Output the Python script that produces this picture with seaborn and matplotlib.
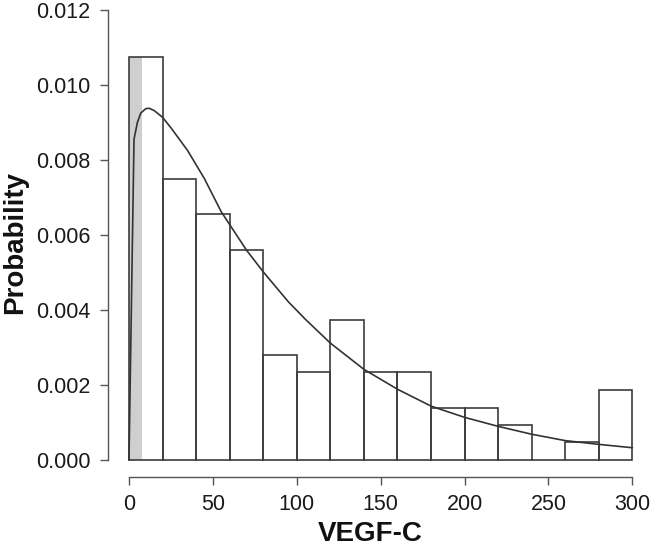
import numpy as np
import matplotlib
matplotlib.use('Agg')
import matplotlib.pyplot as plt
import seaborn as sns

# histogram: bin edges (width 20) and bar heights (density)
bin_edges = [0, 20, 40, 60, 80, 100, 120, 140, 160, 180, 200, 220, 240, 260, 280, 300]
bar_density = [0.01075, 0.00750, 0.00655, 0.00561, 0.00280, 0.00234, 0.00374,
               0.00234, 0.00234, 0.00140, 0.00140, 0.00093, 0.0, 0.00047, 0.00187]

# fitted density curve
curve_x = [0, 3, 5, 7, 10, 12, 15, 20, 25, 35, 45, 55, 70, 80, 95, 105,
           120, 140, 160, 180, 200, 220, 240, 260, 280, 300]
curve_y = [0.0, 0.00855, 0.00900, 0.00925, 0.00937, 0.00938, 0.00932, 0.00914,
           0.00886, 0.00825, 0.00750, 0.00662, 0.00560, 0.00502, 0.00422, 0.00376,
           0.00312, 0.00242, 0.00189, 0.00144, 0.00114, 0.00090, 0.00069,
           0.00052, 0.00042, 0.00033]

# shaded band at the low end of the first bin
shade_x = [0, 8]

x_ticks = [0, 50, 100, 150, 200, 250, 300]
y_ticks = [0.000, 0.002, 0.004, 0.006, 0.008, 0.010, 0.012]

sns.set_theme(style='ticks')
plt.rcParams['font.family'] = ['Liberation Sans', 'DejaVu Sans']

fig = plt.figure(figsize=(6.5, 5.49), dpi=100)
ax = fig.add_axes([108 / 650, 72 / 549, 542 / 650, 474.5 / 549])

# grey band first, so the bar outlines sit on top of it
ax.fill_between(shade_x, 0, bar_density[0], color='#cfcfcf', linewidth=0, zorder=1)

bin_mids = [(a + b) / 2 for a, b in zip(bin_edges[:-1], bin_edges[1:])]
sns.histplot(x=bin_mids, weights=bar_density, bins=bin_edges, stat='count',
             fill=False, color='#3c3c3c', linewidth=1.2, ax=ax, zorder=2)

sns.lineplot(x=curve_x, y=curve_y, color='#333333', linewidth=1.2, ax=ax, zorder=3)

ax.set_xlim(-12.5, 310.5)
ax.set_ylim(-0.00045, 0.0122)
ax.set_xticks(x_ticks)
ax.set_yticks(y_ticks)
ax.set_xticklabels([str(v) for v in x_ticks])
ax.set_yticklabels(['%.3f' % v for v in y_ticks])

for side in ['top', 'right']:
    ax.spines[side].set_visible(False)
ax.spines['left'].set_bounds(0, 0.012)
ax.spines['bottom'].set_bounds(0, 300)
for side in ['left', 'bottom']:
    ax.spines[side].set_color('#555555')
    ax.spines[side].set_linewidth(1.0)
ax.tick_params(direction='out', length=6, width=1.0, color='#555555',
               labelsize=15.5, labelcolor='#1a1a1a', pad=6.5)

ax.set_xlabel('VEGF-C', fontsize=20, fontweight='bold', color='#111111', va='bottom')
ax.xaxis.set_label_coords(262 / 542, -70 / 474.5)
ax.set_ylabel('Probability', fontsize=20, fontweight='bold', color='#111111', va='center')
ax.yaxis.set_label_coords(-93 / 542, 234 / 474.5)

fig.savefig('out.png', dpi=100)
